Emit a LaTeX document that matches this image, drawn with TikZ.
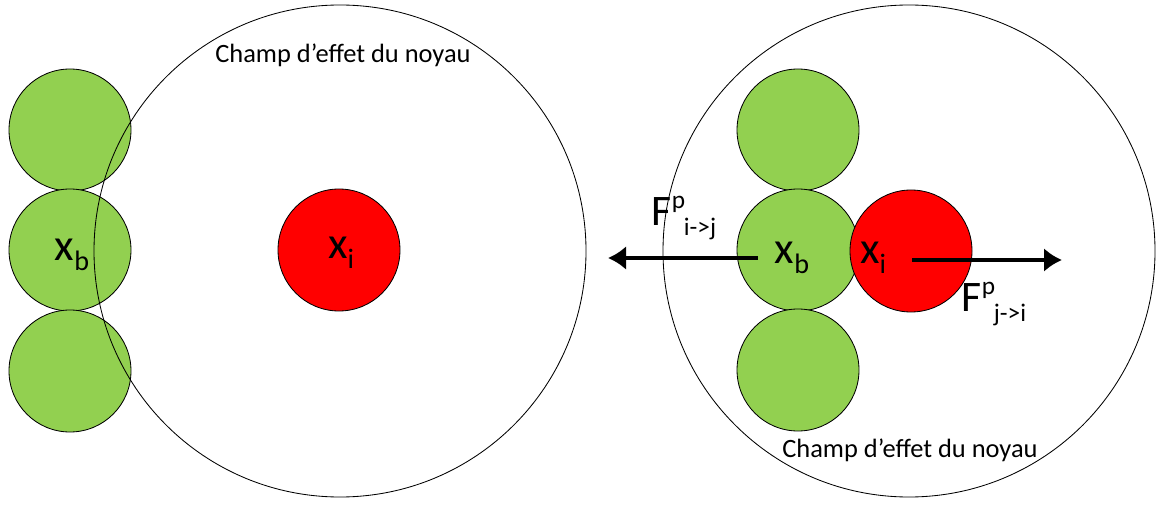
\documentclass[tikz,border=0pt]{standalone}
\usepackage{fontspec}
\setmainfont{Carlito}
\usetikzlibrary{arrows.meta}
\definecolor{leafgreen}{HTML}{92D050}
\definecolor{corered}{HTML}{FF0000}
\newcommand{\sym}[2]{{\fontsize{32}{34}\selectfont #1}\raisebox{-7pt}{\fontsize{20}{22}\selectfont #2}}
\newcommand{\forcelbl}[1]{{\fontsize{31}{33}\selectfont F}\raisebox{12pt}{\fontsize{18}{20}\selectfont p}\kern-1pt\raisebox{-7pt}{\fontsize{18}{20}\selectfont #1}}
\newcommand{\fieldtxt}{\fontsize{18.8}{22}\selectfont Champ d’effet du noyau}

\begin{document}
\begin{tikzpicture}[>={Latex[length=4.5mm,width=6mm]},
    field/.style={circle,draw,line width=0.6pt,minimum size=12.3cm,inner sep=0pt},
    bond/.style={circle,draw,line width=0.6pt,fill=leafgreen,minimum size=3.05cm,inner sep=0pt},
    core/.style={circle,draw,line width=0.6pt,fill=corered,minimum size=3.05cm,inner sep=0pt},
    force/.style={line width=2.6pt,->}]
        \useasboundingbox (0,0) rectangle (28.925,-12.65);
        % left: core far from the boundary
        \node[bond] (gL1) at (1.75,-3.25) {};
        \node[bond] (gL2) at (1.75,-6.25) {};
        \node[bond] (gL3) at (1.75,-9.275) {};
        \node[field] (fieldL) at (8.5,-6.275) {};
        \node[core] (redL) at (8.475,-6.25) {};
        \node (xbL) at (1.8,-6.375) {\sym{x}{b}};
        \node (xiL) at (8.525,-6.325) {\sym{x}{i}};
        \node (txtL) at (8.575,-1.375) {\fieldtxt};
        % right: core in contact
        \node[bond] (gR1) at (19.95,-3.25) {};
        \node[bond] (gR2) at (19.95,-6.25) {};
        \node[bond] (gR3) at (19.95,-9.25) {};
        \node[field] (fieldR) at (22.725,-6.275) {};
        \node[core] (redR) at (22.775,-6.275) {};
        \node (xbR) at (19.8,-6.45) {\sym{x}{b}};
        \node (xiR) at (21.825,-6.45) {\sym{x}{i}};
        \node (txtR) at (22.75,-11.25) {\fieldtxt};
        \node (fij) at (17.1,-5.45) {\forcelbl{i->j}};
        \node (fji) at (24.85,-7.6) {\forcelbl{j->i}};
        \coordinate (fijEnd) at (15.2,-6.45);
        \coordinate (fjiStart) at (22.8,-6.5);
        \coordinate (fjiEnd) at (26.55,-6.5);
        \draw[force,shorten <=0.3cm] (xbR.west) -- (fijEnd);
        \draw[force] (fjiStart) -- (fjiEnd);
    \end{tikzpicture}
\end{document}
